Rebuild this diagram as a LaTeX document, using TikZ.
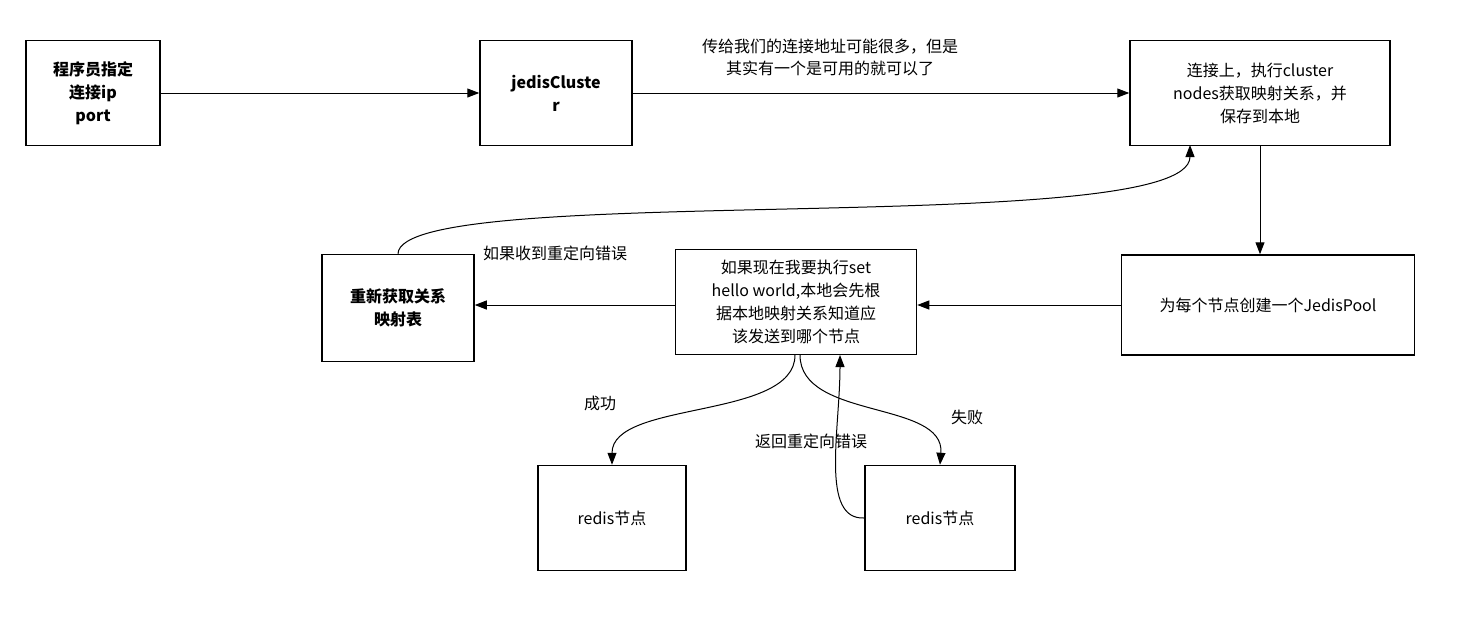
\documentclass[tikz,border=0pt]{standalone}
\usepackage{fontspec}
\setmainfont{Noto Sans CJK SC}
\usetikzlibrary{arrows.meta}
\begin{document}
\begin{tikzpicture}[x=1pt,y=-1pt,
 box/.style={draw,line width=1.5pt,align=center,font=\fontsize{16}{23}\selectfont,inner sep=2pt},
 bb/.style={box,font=\fontsize{16}{23}\selectfont\bfseries},
 arr/.style={line width=1pt,-{Triangle[length=12pt,width=9pt]}},
 lab/.style={font=\fontsize{16}{22}\selectfont,align=center}]
\useasboundingbox (0,0) rectangle (1459,633);
\node[bb,minimum width=134,minimum height=105] (A) at (93,93) {程序员指定\\连接ip\\port};
\node[bb,minimum width=152,minimum height=105] (B) at (556,93) {jedisCluste\\r};
\node[box,minimum width=260,minimum height=105] (C) at (1260,93) {连接上，执行cluster\\nodes获取映射关系，并\\保存到本地};
\node[box,minimum width=293,minimum height=100] (D) at (1268,305) {为每个节点创建一个JedisPool};
\node[box,minimum width=241,minimum height=105] (E) at (796,302) {如果现在我要执行set\\hello world,本地会先根\\据本地映射关系知道应\\该发送到哪个节点};
\node[bb,minimum width=152,minimum height=107] (F) at (398,308) {重新获取关系\\映射表};
\node[box,minimum width=148,minimum height=105] (G) at (612,518) {redis节点};
\node[box,minimum width=150,minimum height=105] (H) at (940,518) {redis节点};
\draw[arr] (A.east) -- (B.west);
\draw[arr] (B.east) -- (C.west);
\draw[arr] (C.south) -- (C.south|-D.north);
\draw[arr] (D.west) -- (E.east|-D.west);
\draw[arr] (E.west|-D.west) -- (F.east|-D.west);
\draw[arr] (F.north) .. controls (400,180) and (1190,240) .. (1190,145);
\draw[arr] (795,355) .. controls (795,420) and (612,400) .. (G.north);
\draw[arr] (800,355) .. controls (800,420) and (945,400) .. (H.north);
\draw[arr] (H.west) .. controls (820,520) and (840,430) .. (840,355);
\node[lab] (t1) at (830,57) {传给我们的连接地址可能很多，但是\\其实有一个是可用的就可以了};
\node[lab] (t2) at (555,253) {如果收到重定向错误};
\node[lab] (t3) at (600,403) {成功};
\node[lab] (t4) at (967,417) {失败};
\node[lab] (t5) at (811,441) {返回重定向错误};
\end{tikzpicture}
\end{document}
